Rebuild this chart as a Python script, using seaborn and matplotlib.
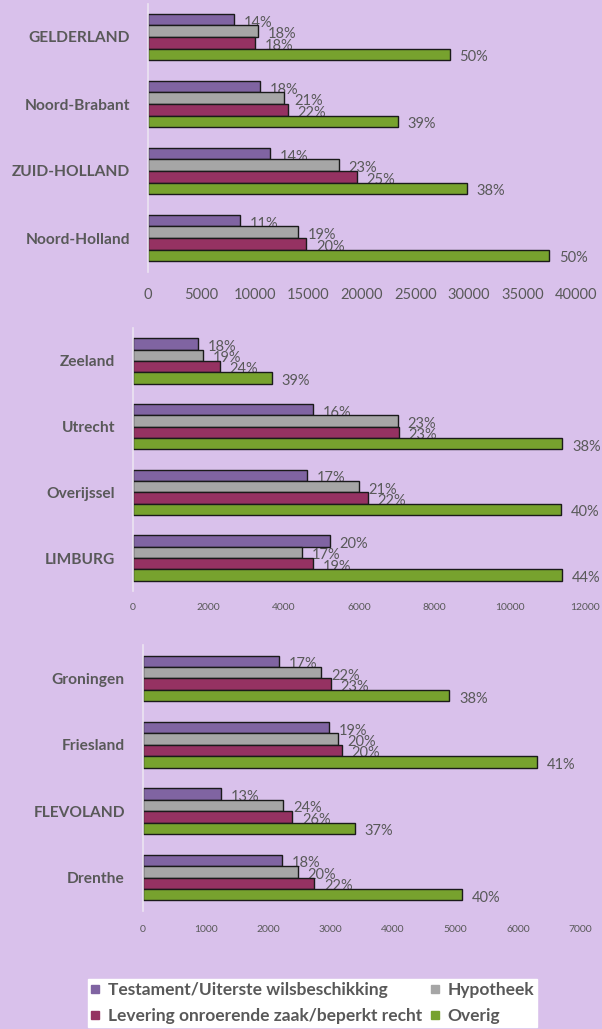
import matplotlib
matplotlib.use("Agg")
import matplotlib.pyplot as plt
from matplotlib.lines import Line2D
import seaborn as sns
import pandas as pd

# data (counts per deed type)
soorten = ['Testament/Uiterste wilsbeschikking', 'Hypotheek',
           'Levering onroerende zaak/beperkt recht', 'Overig']
kleuren = ['#8064A2', '#A6A6A6', '#953262', '#77A22E']

p1_provincies = ['GELDERLAND', 'Noord-Brabant', 'ZUID-HOLLAND', 'Noord-Holland']
p1_testament = [8000, 10450, 11400, 8580]
p1_hypotheek = [10250, 12750, 17830, 14050]
p1_levering = [10000, 13080, 19510, 14800]
p1_overig = [28200, 23370, 29800, 37490]
p1_labels = [['14%', '18%', '14%', '11%'],
             ['18%', '21%', '23%', '19%'],
             ['18%', '22%', '25%', '20%'],
             ['50%', '39%', '38%', '50%']]

p2_provincies = ['Zeeland', 'Utrecht', 'Overijssel', 'LIMBURG']
p2_testament = [1720, 4770, 4630, 5230]
p2_hypotheek = [1865, 7030, 6000, 4485]
p2_levering = [2300, 7060, 6240, 4790]
p2_overig = [3680, 11400, 11375, 11400]
p2_labels = [['18%', '16%', '17%', '20%'],
             ['19%', '23%', '21%', '17%'],
             ['24%', '23%', '22%', '19%'],
             ['39%', '38%', '40%', '44%']]

p3_provincies = ['Groningen', 'Friesland', 'FLEVOLAND', 'Drenthe']
p3_testament = [2180, 2970, 1250, 2230]
p3_hypotheek = [2850, 3120, 2245, 2480]
p3_levering = [3005, 3180, 2390, 2740]
p3_overig = [4900, 6310, 3390, 5100]
p3_labels = [['17%', '19%', '13%', '18%'],
             ['22%', '20%', '24%', '20%'],
             ['23%', '20%', '26%', '22%'],
             ['38%', '41%', '37%', '40%']]

bg = '#D9C1EB'
grijs = '#595959'

sns.set_theme(style="white")
plt.rcParams['font.family'] = ['Lato', 'DejaVu Sans']


def make_df(provincies, reeksen):
    rows = []
    for soort, waarden in zip(soorten, reeksen):
        for prov, w in zip(provincies, waarden):
            rows.append({'provincie': prov, 'soort': soort, 'aantal': w})
    return pd.DataFrame(rows)


def draw_panel(ax, provincies, reeksen, labels, xmax, step, tick_size, tick_pad):
    df = make_df(provincies, reeksen)
    sns.barplot(data=df, y='provincie', x='aantal', hue='soort', orient='h',
                hue_order=soorten, palette=kleuren, width=0.69, gap=0,
                edgecolor='#1a1a1a', linewidth=1.0, saturation=1,
                legend=False, ax=ax)
    ax.set_facecolor(bg)
    ax.set_xlim(0, xmax)
    ax.set_ylim(len(provincies) - 0.5, -0.5)
    ax.set_xticks(range(0, xmax + 1, step))
    ax.set_xlabel('')
    ax.set_ylabel('')
    for s in ['top', 'right', 'bottom']:
        ax.spines[s].set_visible(False)
    ax.spines['left'].set_color('#ECE4F2')
    ax.spines['left'].set_linewidth(1.2)
    ax.tick_params(axis='x', length=0, labelsize=tick_size, labelcolor=grijs, pad=tick_pad)
    ax.tick_params(axis='y', length=0, labelsize=11.2, labelcolor=grijs, pad=13)
    for lab in ax.get_yticklabels():
        lab.set_fontweight('bold')
    # value labels, drawn beneath the bars like in the original
    for bar in ax.patches:
        bar.set_zorder(2)
    for cont, labs in zip(ax.containers, labels):
        for bar, txt in zip(cont, labs):
            ax.annotate(txt, (bar.get_width(), bar.get_y() + bar.get_height() / 2),
                        xytext=(7, -5.0), textcoords='offset points',
                        ha='left', va='baseline', fontsize=10.5, color=grijs,
                        zorder=1)


fig = plt.figure(figsize=(6.02, 10.29), dpi=100)
fig.patch.set_facecolor(bg)
H = 1029.0
W = 602.0

ax1 = fig.add_axes([148 / W, 1 - 271.5 / H, 428 / W, 268 / H])
ax2 = fig.add_axes([133 / W, 1 - 591 / H, 452 / W, 263 / H])
ax3 = fig.add_axes([143 / W, 1 - 910.7 / H, 437.6 / W, 265.4 / H])

draw_panel(ax1, p1_provincies, [p1_testament, p1_hypotheek, p1_levering, p1_overig],
           p1_labels, 40000, 5000, 10.5, 12)
draw_panel(ax2, p2_provincies, [p2_testament, p2_hypotheek, p2_levering, p2_overig],
           p2_labels, 12000, 2000, 7.5, 9)
draw_panel(ax3, p3_provincies, [p3_testament, p3_hypotheek, p3_levering, p3_overig],
           p3_labels, 7000, 1000, 7.5, 10)

# legend: column-wise order gives Testament / Levering in the first column
volgorde = [0, 2, 1, 3]
handles = [Line2D([], [], marker='s', linestyle='', markersize=6,
                  color=kleuren[i]) for i in volgorde]
leg = fig.legend(handles, [soorten[i] for i in volgorde], ncol=2,
                 loc='upper left', bbox_to_anchor=(88 / W, 1 - 979 / H),
                 frameon=True, fancybox=False, framealpha=1, borderpad=0.15,
                 handlelength=0.55, handletextpad=0.45, columnspacing=0.45,
                 labelspacing=0.62, borderaxespad=0,
                 prop={'size': 12.5, 'weight': 'bold'})
leg.get_frame().set_facecolor('white')
leg.get_frame().set_edgecolor('white')
for t in leg.get_texts():
    t.set_color(grijs)

fig.savefig('out.png', dpi=100, facecolor=bg)
